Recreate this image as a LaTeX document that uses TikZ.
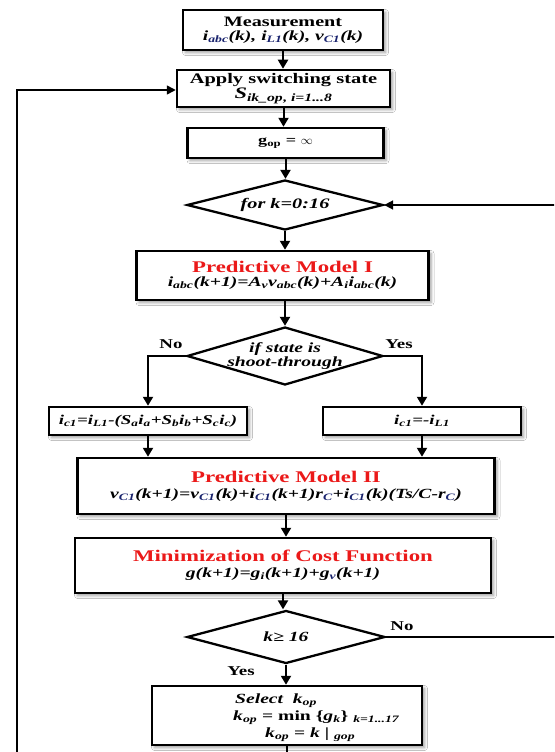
\documentclass[tikz,border=0pt]{standalone}
\usepackage{fontspec}
\setmainfont{Liberation Serif}[FakeStretch=1.4]
\usetikzlibrary{shapes.geometric,arrows.meta,shadows.blur}
\definecolor{rd}{RGB}{235,25,25}
\definecolor{nv}{RGB}{25,35,110}
\newcommand\sbs[1]{\textsubscript{#1}}
\newcommand\fsz[1]{\fontsize{#1}{#1}\selectfont}
\begin{document}
\begin{tikzpicture}[x=1pt,y=-1pt,
  box/.style={draw, line width=2.5pt, fill=white, inner sep=0pt, align=center, font=\bfseries,
    blur shadow={shadow xshift=2.5pt,shadow yshift=-2.5pt,shadow opacity=40,shadow blur radius=3pt}},
  dia/.style={diamond, draw, line width=2.3pt, fill=white, inner sep=0pt},
  arr/.style={line width=2pt, -{Triangle[length=9pt,width=10pt]}},
  fb/.style={line width=1.7pt, -{Triangle[length=9pt,width=9pt]}},
  lab/.style={font=\bfseries\fsz{13.5}, inner sep=0pt},
  dtext/.style={font=\bfseries\itshape\fsz{14}, align=center, inner sep=0pt}]
\useasboundingbox (0,0) rectangle (554,752);
\fill[white] (0,0) rectangle (554,752);
\clip (0,0) rectangle (554,752);

\node[box, minimum width=200, minimum height=40] (meas) at (283,30)
  {\fsz{14.4}Measurement\\[2pt]\fsz{14}\itshape i\sbs{\color{nv}abc}(k), i\sbs{\color{nv}L1}(k), v\sbs{\color{nv}C1}(k)};
\node[box, minimum width=213, minimum height=37] (apply) at (283.5,88.5)
  {\fsz{14.6}Apply switching state\\[1pt]\fsz{16}\itshape S\sbs{ik\_op}\sbs{, i=1...8}};
\node[box, minimum width=196, minimum height=30] (gop) at (285.5,143)
  {\fsz{13}g\sbs{op} = $\infty$};
\node[dia, minimum width=196, minimum height=50,
  label={[dtext, font=\bfseries\itshape\fsz{14.5}]center:for k=0:16}] (for) at (285,205) {};
\node[box, minimum width=292, minimum height=49] (pm1) at (282.5,275.5)
  {\color{rd}\fsz{16.3}Predictive Model I\\[2pt]\fsz{14}\itshape i\sbs{abc}(k+1)=A\sbs{v}v\sbs{abc}(k)+A\sbs{i}i\sbs{abc}(k)};
\node[dia, minimum width=196, minimum height=58,
  label={[dtext]center:if state is\\shoot-through}] (if) at (285,356) {};
\node[box, minimum width=198, minimum height=28] (lbox) at (148,421)
  {\itshape\fsz{13.5}i\sbs{c1}=i\sbs{L1}-(S\sbs{a}i\sbs{a}+S\sbs{b}i\sbs{b}+S\sbs{c}i\sbs{c})};
\node[box, minimum width=198, minimum height=28] (rbox) at (422,421)
  {\itshape\fsz{13.5}i\sbs{c1}=-i\sbs{L1}};
\node[box, minimum width=417, minimum height=56] (pm2) at (286,486)
  {\color{rd}\fsz{16.3}Predictive Model II\\[4pt]\itshape\fsz{14}v\sbs{\color{nv}C1}(k+1)=v\sbs{\color{nv}C1}(k)+i\sbs{\color{nv}C1}(k+1)r\sbs{\color{nv}C}+i\sbs{\color{nv}C1}(k)(Ts/C-r\sbs{\color{nv}C})};
\node[box, minimum width=416, minimum height=55] (min) at (283,565.5)
  {\color{rd}\fsz{16.3}Minimization of Cost Function\\[4pt]\itshape\fsz{14}g(k+1)=g\sbs{i}(k+1)+g\sbs{\color{nv}v}(k+1)};
\node[dia, minimum width=198, minimum height=53,
  label={[dtext]center:k≥ 16}] (kge) at (286,637) {};
\node[box, minimum width=270, minimum height=59] (sel) at (287,715.5) {};
\node[anchor=base west, inner sep=0pt, font=\bfseries\fsz{14}] (sel1) at (235,703) {\itshape Select\ \ k\sbs{op}};
\node[anchor=base west, inner sep=0pt, font=\bfseries\fsz{14}] (sel2) at (233,720) {\textit{k\sbs{op}} = min \{\textit{g\sbs{k}}\} \textit{\sbs{k=1...17}}};
\node[anchor=base west, inner sep=0pt, font=\bfseries\fsz{14}] (sel3) at (265,737) {\textit{k\sbs{op}} = \textit{k} | \textit{\sbs{gop}}};

\node[lab] (no1) at (171,344) {No};
\node[lab] (yes1) at (399,344) {Yes};
\node[lab] (no2) at (402,626) {No};
\node[lab] (yes2) at (241,671) {Yes};

\coordinate (bl) at (17,800);
\coordinate (tr) at (575,0);

\draw[arr] (meas.south) -- (meas.south |- apply.north);
\draw[arr] (apply.south) -- (apply.south |- gop.north);
\draw[arr] (gop.south) -- (gop.south |- for.north);
\draw[arr] (for.south) -- (for.south |- pm1.north);
\draw[arr] (for.south |- pm1.south) -- (for.south |- if.north);
\draw[arr] (if.west) -| (lbox.north);
\draw[arr] (if.east) -| (rbox.north);
\draw[arr] (lbox.south) -- (lbox.south |- pm2.north);
\draw[arr] (rbox.south) -- (rbox.south |- pm2.north);
\draw[arr] (pm2.south) -- (pm2.south |- min.north);
\draw[arr] (min.south) -- (min.south |- kge.north);
\draw[arr] (kge.south) -- (kge.south |- sel.north);
\draw[fb] (sel.south) -- (sel.south |- bl) -- (bl) |- ([yshift=-1.5pt]apply.west);
\draw[fb] (kge.east) -- (kge.east -| tr) |- (for.east);
\end{tikzpicture}
\end{document}
